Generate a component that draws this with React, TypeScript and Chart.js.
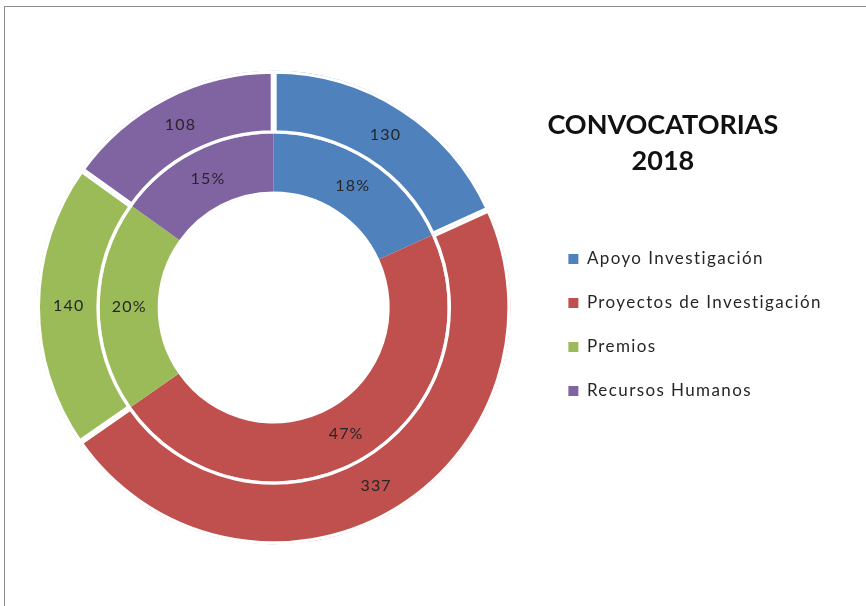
import React, { useEffect, useRef } from 'react';
import { Chart, registerables } from 'chart.js';

Chart.register(...registerables);

const categories = ['Apoyo Investigación', 'Proyectos de Investigación', 'Premios', 'Recursos Humanos'];
const convocatorias = [130, 337, 140, 108];
const percentLabels = ['18%', '47%', '20%', '15%'];
const colors = ['#4F81BD', '#C0504D', '#9BBB59', '#8064A2'];
const titleLines = ['CONVOCATORIAS', '2018'];

const TITLE_SIZE = 27;
const TITLE_LINE = 36;
const TITLE_PAD_TOP = 103;
const TITLE_PAD_BOTTOM = 75.5;
const TITLE_CENTER_FROM_LEGEND_LEFT = 121.5;
const LEGEND_SPACING = '1.4px';

// Wider letter spacing for legend entries (measured in layout, drawn before datasets)
const spacing = {
  id: 'spacing',
  beforeLayout(chart: any) {
    (chart.ctx as any).letterSpacing = LEGEND_SPACING;
  },
  afterLayout(chart: any) {
    (chart.ctx as any).letterSpacing = '0px';
  },
  beforeDraw(chart: any) {
    (chart.ctx as any).letterSpacing = LEGEND_SPACING;
  },
  beforeDatasetsDraw(chart: any) {
    (chart.ctx as any).letterSpacing = '0px';
  },
};

const sliceLabels = {
  id: 'sliceLabels',
  afterDatasetsDraw(chart: any) {
    const ctx = chart.ctx;
    ctx.save();
    (ctx as any).letterSpacing = '1.2px';
    ctx.font = '16px Lato';
    ctx.fillStyle = '#262626';
    ctx.textAlign = 'center';
    ctx.textBaseline = 'middle';
    chart.data.datasets.forEach((ds: any, di: number) => {
      const meta = chart.getDatasetMeta(di);
      meta.data.forEach((arc: any, i: number) => {
        const p = arc.tooltipPosition(false);
        ctx.fillText(ds.labelTexts[i], p.x + 0.6, p.y);
      });
    });
    ctx.restore();
  },
};

// Block title drawn over the legend column
const blockTitle = {
  id: 'blockTitle',
  afterDraw(chart: any) {
    const lg = chart.legend;
    if (!lg) return;
    const ctx = chart.ctx;
    ctx.save();
    (ctx as any).letterSpacing = '0px';
    ctx.font = `bold ${TITLE_SIZE}px Lato`;
    ctx.fillStyle = '#111111';
    ctx.textAlign = 'center';
    ctx.textBaseline = 'middle';
    const x = lg.left + TITLE_CENTER_FROM_LEGEND_LEFT;
    let y = lg.top + TITLE_PAD_TOP + TITLE_SIZE / 2;
    titleLines.forEach((t) => {
      ctx.fillText(t, x, y);
      y += TITLE_LINE;
    });
    ctx.restore();
  },
};

export default function App() {
  const canvasRef = useRef<HTMLCanvasElement | null>(null);

  useEffect(() => {
    if (!canvasRef.current) return;
    const baseGen = (Chart as any).overrides.doughnut.plugins.legend.labels.generateLabels;
    const chart = new Chart(canvasRef.current, {
      type: 'doughnut',
      data: {
        labels: categories,
        datasets: [
          {
            data: convocatorias,
            backgroundColor: colors,
            borderColor: '#ffffff',
            borderWidth: 3,
            borderAlign: 'inner',
            weight: 63,
            labelTexts: convocatorias.map(String),
          } as any,
          {
            data: convocatorias,
            backgroundColor: colors,
            borderWidth: 0,
            weight: 58,
            labelTexts: percentLabels,
          } as any,
        ],
      },
      options: {
        responsive: false,
        animation: false,
        radius: 237,
        cutout: '48.95%',
        layout: { padding: { left: 1, right: 34, top: 2, bottom: 0 } },
        plugins: {
          tooltip: { enabled: false },
          legend: {
            position: 'right',
            align: 'start',
            title: {
              display: true,
              text: '',
              position: 'center',
              font: { family: 'Lato', size: TITLE_SIZE, weight: 'bold', lineHeight: TITLE_LINE / TITLE_SIZE },
              padding: { top: TITLE_PAD_TOP, bottom: TITLE_PAD_BOTTOM },
            },
            labels: {
              boxWidth: 10,
              boxHeight: 10,
              padding: 27,
              color: '#262626',
              font: { family: 'Lato', size: 17 },
              generateLabels: (c: any) =>
                baseGen(c).map((l: any) => ({ ...l, lineWidth: 0, strokeStyle: 'rgba(0,0,0,0)' })),
            },
          },
        },
      } as any,
      plugins: [spacing, sliceLabels, blockTitle],
    });
    return () => chart.destroy();
  }, []);

  return (
    <div
      style={{
        position: 'fixed',
        left: 4,
        top: 6,
        width: 870,
        height: 610,
        borderLeft: '1px solid #8c8c8c',
        borderTop: '1px solid #8c8c8c',
        background: '#ffffff',
        overflow: 'hidden',
      }}
    >
      <canvas ref={canvasRef} width={861} height={599} style={{ display: 'block', width: 861, height: 599 }} />
    </div>
  );
}
